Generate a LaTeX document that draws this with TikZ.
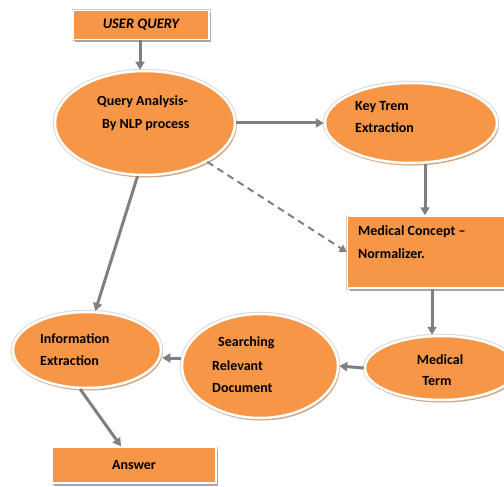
\documentclass[tikz,border=0pt]{standalone}
\usepackage{fontspec}
\setmainfont{Carlito}
\usetikzlibrary{shapes.geometric,arrows.meta}
\definecolor{orfill}{HTML}{F79646}
\definecolor{shad}{HTML}{D2A683}
\definecolor{arrc}{HTML}{7F7F7F}
\tikzset{
  oval/.style={ellipse, inner sep=0pt, fill=orfill, draw=white, line width=2.5pt,
    preaction={draw=black!15, line width=4.5pt},
    preaction={fill=shad, transform canvas={xshift=1.5pt,yshift=-2.5pt}}},
  box/.style={rectangle, inner sep=0pt, fill=orfill, draw=white, line width=1.5pt,
    preaction={draw=black!18, line width=3pt},
    preaction={fill=black!35, transform canvas={xshift=2pt,yshift=-3pt}}},
  txt/.style={anchor=west, inner sep=0pt, font=\fontsize{14}{16}\selectfont\bfseries, text=black, align=left},
  arr/.style={draw=arrc, line width=3pt, -{Triangle[width=9pt,length=8pt]}},
  darr/.style={draw=arrc, line width=2pt, dash pattern=on 7pt off 5pt, -{Triangle[width=8pt,length=7pt]}}
}
\begin{document}
\begin{tikzpicture}[x=1pt,y=-1pt]
\useasboundingbox (0,0) rectangle (504,487);
% shapes
\node[box, minimum width=136pt, minimum height=29pt] (uq) at (141,25) {};
\node[oval, minimum width=180pt, minimum height=104pt] (qa) at (145,123) {};
\node[oval, minimum width=172pt, minimum height=80pt] (kt) at (411,123) {};
\node[box, minimum width=175pt, minimum height=72pt] (mc) at (435,252) {};
\node[oval, minimum width=152pt, minimum height=64pt] (mt) at (441,368) {};
\node[oval, minimum width=156pt, minimum height=104pt] (sr) at (260,366) {};
\node[oval, minimum width=148pt, minimum height=76pt] (ie) at (87,350) {};
\node[box, minimum width=164pt, minimum height=36pt] (ans) at (134,465) {};
% texts
\node[txt, anchor=center, font=\fontsize{14.5}{16}\selectfont\bfseries\itshape] (uqt) at (uq.center) {USER QUERY};
\node[txt] (qat1) at (97,102) {Query Analysis-};
\node[txt] (qat2) at (102,125) {By NLP process};
\node[txt] (ktt1) at (355,107) {Key Trem};
\node[txt] (ktt2) at (355,128) {Extraction};
\node[txt] (mct1) at (358,232) {Medical Concept --};
\node[txt] (mct2) at (358,254) {Normalizer.};
\node[txt, anchor=center] (mtt1) at (440,360) {Medical};
\node[txt, anchor=center] (mtt2) at (437,381) {Term};
\node[txt] (srt1) at (218,343) {Searching};
\node[txt] (srt2) at (212,366) {Relevant};
\node[txt] (srt3) at (212,388) {Document};
\node[txt] (iet1) at (40,339) {Information};
\node[txt] (iet2) at (40,361) {Extraction};
\node[txt, anchor=center] (anst) at (ans.center) {Answer};
% helper coordinates
\coordinate (c0) at (140,0);
\coordinate (c1) at (425,0);
\coordinate (c2) at (432,0);
\coordinate (c3) at (0,358);
\coordinate (c4) at (121,0);
% connectors
\draw[arr] (uq.south -| c0) -- (qa.north -| c0);
\draw[arr] (qa.east) -- (kt.west);
\draw[arr] (kt.south -| c1) -- (mc.north -| c1);
\draw[darr] (qa.-32) -- (mc.west);
\draw[arr] (mc.south -| c2) -- (mt.north -| c2);
\draw[arr] (mt.west) -- (sr.east);
\draw[arr] (sr.west |- c3) -- (ie.east |- c3);
\draw[arr] (qa.-98) -- (ie.78);
\draw[arr] (ie.-100) -- (ans.north -| c4);
\end{tikzpicture}
\end{document}
